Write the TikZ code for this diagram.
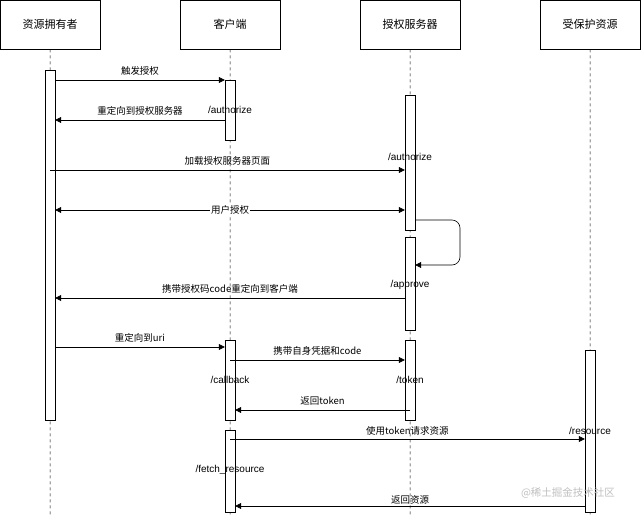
\documentclass[tikz,border=0pt]{standalone}
\usepackage{fontspec}
\setmainfont{Liberation Sans}
\newfontfamily\cjk{Noto Sans CJK SC}
\usetikzlibrary{arrows.meta}
\begin{document}
\begin{tikzpicture}[x=1pt,y=-1pt,font=\cjk\fontsize{9.5}{11}\selectfont,
 head/.style={draw,minimum width=100pt,minimum height=49pt,anchor=north west,font=\cjk\fontsize{11}{13}\selectfont},
 life/.style={dashed,line width=0.5pt},
 act/.style={draw,fill=white,minimum width=10pt,inner sep=0pt,anchor=north},
 msg/.style={-{Triangle[length=6pt,width=6pt]},line width=0.6pt},
 lab/.style={inner sep=1pt},
 ep/.style={font=\fontsize{10}{12}\selectfont,inner sep=0pt}]
\useasboundingbox (0,0) rectangle (641,515);
\node[head] (h1) at (0,0) {资源拥有者};
\node[head] (h2) at (180,0) {客户端};
\node[head] (h3) at (360,0) {授权服务器};
\node[head] (h4) at (540,0) {受保护资源};
\coordinate (e1) at (50,515); \coordinate (e2) at (230,515);
\coordinate (e3) at (410,515); \coordinate (e4) at (590,515);
\draw[life] (h1.south) -- (e1); \draw[life] (h2.south) -- (e2);
\draw[life] (h3.south) -- (e3); \draw[life] (h4.south) -- (e4);
% activations
\node[act,minimum height=350pt] (a1) at (50,70) {};
\node[act,minimum height=60pt] (c1) at (230,80) {};
\node[act,minimum height=135pt] (s1) at (410,95) {};
\node[act,minimum height=93pt] (s2) at (410,237) {};
\node[act,minimum height=80pt] (c2) at (230,340) {};
\node[act,minimum height=80pt] (s3) at (410,340) {};
\node[act,minimum height=82pt] (c3) at (230,430) {};
\node[act,minimum height=162pt] (r1) at (590,350) {};
% messages
\draw[msg] (a1.east|-0,80) -- (c1.west|-0,80) node[lab,midway,above=3pt] {触发授权};
\draw[msg] (c1.west|-0,120) -- (a1.east|-0,120) node[lab,midway,above=3pt] {重定向到授权服务器};
\node[ep] (ep1) at (230,110) {/authorize};
\draw[msg] (50,170) -- (s1.west|-0,170) node[lab,midway,above=3pt] {加载授权服务器页面};
\node[ep] (ep2) at (410,157) {/authorize};
\draw[{Triangle[length=6pt,width=6pt]}-{Triangle[length=6pt,width=6pt]},line width=0.6pt] (a1.east|-0,210) -- (s1.west|-0,210) node[lab,midway,fill=white] {用户授权};
\draw[msg,rounded corners=8pt] (s1.east|-0,220) -- (460,220) -- (460,265) -- (s2.east|-0,265);
\draw[msg] (s2.west|-0,298) -- (a1.east|-0,298) node[lab,midway,above=3pt] {携带授权码code重定向到客户端};
\node[ep] (ep3) at (410,285) {/approve};
\draw[msg] (a1.east|-0,347) -- (c2.west|-0,347) node[lab,midway,above=3pt] {重定向到uri};
\draw[msg] (230,360) -- (s3.west|-0,360) node[lab,midway,above=3pt] {携带自身凭据和code};
\node[ep] (ep4) at (230,380) {/callback};
\node[ep] (ep5) at (410,380) {/token};
\draw[msg] (410,410) -- (c2.east|-0,410) node[lab,midway,above=3pt] {返回token};
\draw[msg] (230,439) -- (r1.west|-0,439) node[lab,midway,above=2pt] {使用token请求资源};
\node[ep] (ep6) at (590,431) {/resource};
\node[ep] (ep7) at (230,470) {/fetch\_resource};
\draw[msg] (r1.west|-0,506) -- (c3.east|-0,506) node[lab,midway,above=0pt] {返回资源};
\node[text=black!25,font=\cjk\fontsize{10.5}{12}\selectfont] (wm) at (568,493) {@稀土掘金技术社区};
\end{tikzpicture}
\end{document}
